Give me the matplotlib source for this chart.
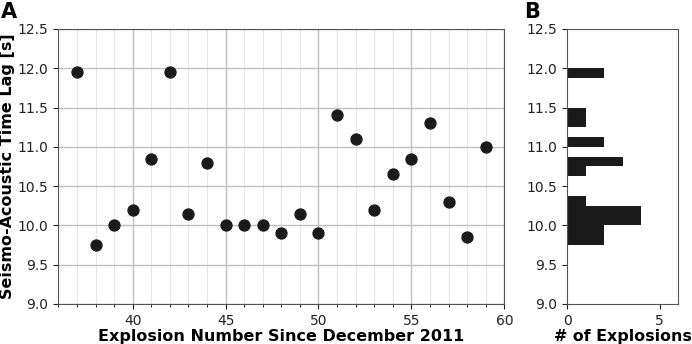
import matplotlib
matplotlib.use("Agg")
import matplotlib.pyplot as plt
import numpy as np

# Scatter data (panel A)
explosion_number = [37, 38, 39, 40, 41, 42, 43, 44, 45, 46, 47, 48, 49, 50,
                    51, 52, 53, 54, 55, 56, 57, 58, 59]
time_lag = [11.95, 9.75, 10.0, 10.2, 10.85, 11.95, 10.15, 10.8, 10.0, 10.0, 10.0,
            9.9, 10.15, 9.9, 11.4, 11.1, 10.2, 10.65, 10.85, 11.3, 10.3, 9.85, 11.0]

# Histogram data (panel B)
bin_edges = [9.75, 9.875, 10.0, 10.125, 10.25, 10.375, 10.5, 10.625, 10.75,
             10.875, 11.0, 11.125, 11.25, 11.375, 11.5, 11.625, 11.75, 11.875, 12.0]
bin_counts = [2, 2, 4, 4, 1, 0, 0, 1, 3, 0, 2, 0, 1, 1, 0, 0, 0, 2]

dark = "#1a1a1a"
fig = plt.figure(figsize=(6.92, 3.44), dpi=100)

axA = fig.add_axes([0.0843, 0.1163, 0.6445, 0.7994])
axA.scatter(explosion_number, time_lag, s=62, color=dark, zorder=3)
axA.set_xlim(36, 60)
axA.set_ylim(9.0, 12.5)
axA.set_xticks([40, 45, 50, 55, 60])
axA.set_xticks(np.arange(36, 61, 1), minor=True)
axA.set_yticks(np.arange(9.0, 12.51, 0.5))
axA.grid(True, which="major", color="#c0c0c0", linewidth=1.0)
axA.grid(True, which="minor", axis="x", color="#e6e6e6", linewidth=0.8)
axA.set_axisbelow(True)
axA.tick_params(labelsize=10, colors="#222222")
axA.set_xlabel("Explosion Number Since December 2011", fontsize=11.5, fontweight="bold", labelpad=1)
axA.set_ylabel("Seismo-Acoustic Time Lag [s]", fontsize=11.5, fontweight="bold", labelpad=2)
for sp in axA.spines.values():
    sp.set_color("#555555")

axB = fig.add_axes([0.8198, 0.1163, 0.1604, 0.7994])
widths = np.diff(bin_edges)
axB.barh(bin_edges[:-1], bin_counts, height=widths, align="edge", color=dark, linewidth=0)
axB.set_xlim(0, 6)
axB.set_ylim(9.0, 12.5)
axB.set_xticks([0, 5])
axB.set_yticks(np.arange(9.0, 12.51, 0.5))
axB.tick_params(labelsize=10, colors="#222222")
axB.set_xlabel("# of Explosions", fontsize=11.4, fontweight="bold", labelpad=1)
for sp in axB.spines.values():
    sp.set_color("#555555")

fig.text(0.002, 0.995, "A", fontsize=15, fontweight="bold", va="top", ha="left")
fig.text(0.757, 0.995, "B", fontsize=15, fontweight="bold", va="top", ha="left")

fig.savefig("out.png", dpi=100)
